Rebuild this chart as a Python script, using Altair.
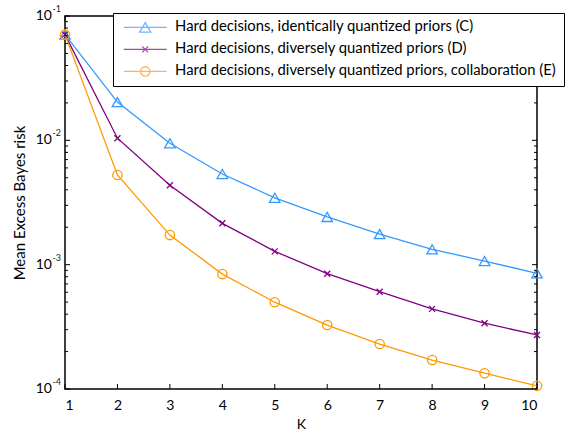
import altair as alt
import pandas as pd

# ---- data ----
K = list(range(1, 11))
risk_C = [0.0708, 0.0203, 0.00946, 0.00536, 0.00345, 0.00242, 0.00176, 0.00133, 0.00107, 0.000851]
risk_D = [0.0708, 0.0104, 0.00435, 0.00215, 0.00128, 0.000846, 0.000606, 0.000441, 0.000338, 0.000272]
risk_E = [0.0708, 0.00526, 0.00173, 0.00084, 0.000499, 0.000327, 0.000230, 0.000171, 0.000134, 0.000106]
labels = [
    "Hard decisions, identically quantized priors (C)",
    "Hard decisions, diversely quantized priors (D)",
    "Hard decisions, diversely quantized priors, collaboration (E)",
]
colors = ["#3399ff", "#800080", "#ff9900"]
marker_shapes = ["triangle-up", "M-1,-1L1,1M-1,1L1,-1", "circle"]
marker_sizes = [110, 36, 87]
decades = [1e-1, 1e-2, 1e-3, 1e-4]
decade_exps = ["-1", "-2", "-3", "-4"]
minor_vals = [m * d for d in [1e-4, 1e-3, 1e-2] for m in range(2, 10)]

FONT = "Lato"
W, H = 472, 373

rows = []
for lab, vals in zip(labels, [risk_C, risk_D, risk_E]):
    for k, v in zip(K, vals):
        rows.append({"K": k, "risk": v, "series": lab})
df = pd.DataFrame(rows)

xscale = alt.Scale(domain=[1, 10], nice=False, zero=False)
yscale = alt.Scale(type="log", domain=[1e-4, 1e-1], nice=False)

x_axis = alt.Axis(
    values=K, format="d", ticks=False, domain=False, grid=False,
    labelPadding=9, labelFontSize=14, labelFont=FONT, labelColor="black",
    title="K", titlePadding=5, titleFontSize=14, titleFont=FONT,
    titleColor="black", titleFontWeight="normal")
y_axis = alt.Axis(
    labels=False, ticks=False, domain=False, grid=False,
    title="Mean Excess Bayes risk", titlePadding=38, titleFontSize=15,
    titleFont=FONT, titleColor="black", titleFontWeight="normal")

x_enc = alt.X("K:Q", scale=xscale, axis=x_axis)
y_enc = alt.Y("risk:Q", scale=yscale, axis=y_axis)
yv = alt.Y("v:Q", scale=yscale, axis=y_axis)

color_scale = alt.Scale(domain=labels, range=colors)

# legend with line+marker symbols
legend_paths = [
    "M-4.3,0H4.3M0,-0.95L-1.1,0.95L1.1,0.95Z",
    "M-4.3,0H4.3M-0.6,-0.6L0.6,0.6M-0.6,0.6L0.6,-0.6",
    "M-4.3,0H4.3M-0.93,0A0.93,0.93,0,1,1,0.93,0A0.93,0.93,0,1,1,-0.93,0Z",
]
leg = alt.Legend(
    title=None, orient="none", legendX=48, legendY=-3,
    strokeColor="black", fillColor="white", padding=7,
    symbolSize=100, symbolStrokeWidth=1.3, symbolOffset=17.8,
    labelOffset=22.5, labelFontSize=14.8, labelFont=FONT, labelColor="black",
    rowPadding=6, labelLimit=600, symbolFillColor="transparent",
)
color_enc = alt.Color("series:N", scale=color_scale, legend=leg)

base = alt.Chart(df)

legend_layer = base.transform_filter("false").mark_point(filled=False, size=100).encode(
    x=x_enc, y=y_enc,
    color=color_enc,
    shape=alt.Shape("series:N", scale=alt.Scale(domain=labels, range=legend_paths), legend=leg),
)

lines = base.mark_line(strokeWidth=1.3).encode(x=x_enc, y=y_enc, color=color_enc)

point_layers = []
for lab, shp, sz in zip(labels, marker_shapes, marker_sizes):
    point_layers.append(
        base.transform_filter(alt.datum.series == lab)
        .mark_point(filled=False, strokeWidth=1.3, opacity=1, shape=shp, size=sz)
        .encode(x=x_enc, y=y_enc, color=color_enc)
    )

# inward ticks
kdf = pd.DataFrame({"K": K})
ydf_major = pd.DataFrame({"v": decades, "e": decade_exps})
ydf_minor = pd.DataFrame({"v": minor_vals})

tick_style = dict(color="black", strokeWidth=1)
xt_bottom = alt.Chart(kdf).mark_rule(**tick_style).encode(x=x_enc, y=alt.value(H), y2=alt.value(H - 5))
xt_top = alt.Chart(kdf).mark_rule(**tick_style).encode(x=x_enc, y=alt.value(0), y2=alt.value(5))
yt_lmaj = alt.Chart(ydf_major).mark_rule(**tick_style).encode(y=yv, x=alt.value(0), x2=alt.value(5))
yt_rmaj = alt.Chart(ydf_major).mark_rule(**tick_style).encode(y=yv, x=alt.value(W), x2=alt.value(W - 5))
yt_lmin = alt.Chart(ydf_minor).mark_rule(**tick_style).encode(y=yv, x=alt.value(0), x2=alt.value(3))
yt_rmin = alt.Chart(ydf_minor).mark_rule(**tick_style).encode(y=yv, x=alt.value(W), x2=alt.value(W - 3))

# y tick labels 10^n
lab10 = alt.Chart(ydf_major).mark_text(
    align="right", baseline="middle", fontSize=14, font=FONT, color="black"
).encode(y=yv, x=alt.value(-13), text=alt.value("10"))
labexp = alt.Chart(ydf_major).mark_text(
    align="right", baseline="middle", fontSize=9, font=FONT, color="#222", dy=-7
).encode(y=yv, x=alt.value(-4), text="e:N")

chart = alt.layer(
    legend_layer, lines, *point_layers,
    xt_bottom, xt_top, yt_lmaj, yt_rmaj, yt_lmin, yt_rmin, lab10, labexp,
).properties(
    width=W, height=H,
    autosize=alt.AutoSizeParams(type="none"),
    padding={"left": 65, "top": 16, "right": 42, "bottom": 42},
).configure(font=FONT, background="white").configure_view(stroke="black", strokeWidth=1.5)

chart.save("out.html", embed_options={"renderer": "svg", "actions": False})
